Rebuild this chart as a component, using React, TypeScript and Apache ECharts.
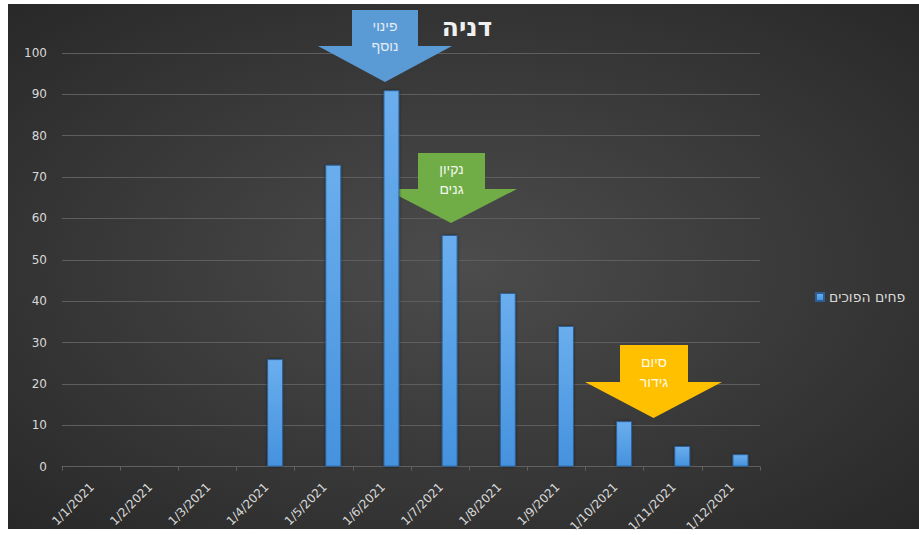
import React, { useEffect, useRef } from "react";
import * as echarts from "echarts";

const categories = [
  "1/1/2021", "1/2/2021", "1/3/2021", "1/4/2021", "1/5/2021", "1/6/2021",
  "1/7/2021", "1/8/2021", "1/9/2021", "1/10/2021", "1/11/2021", "1/12/2021",
];
const values = [0, 0, 0, 26, 73, 91, 56, 42, 34, 11, 5, 3];
const seriesName = "פחים הפוכים";
const chartTitle = "דניה";
const yTicks = { min: 0, max: 100, interval: 10 };

const annotations = [
  { lines: "פינוי\nנוסף", color: "#5b9bd5", textColor: "#e4ecf5", box: [352, 10, 418, 46], head: [318, 452, 82], textY: 36 },
  { lines: "נקיון\nגנים", color: "#70ad47", textColor: "#f2f7ee", box: [418, 153, 485, 189], head: [385, 517, 223], textY: 179 },
  { lines: "סיום\nגידור", color: "#ffc000", textColor: "#fffbe8", box: [620, 345, 688, 382], head: [585, 722, 418], textY: 372 },
];

// category offset of bar centers relative to band start (Excel date-axis look)
const BAR_OFFSET = 0.664;

export default function App() {
  const ref = useRef<HTMLDivElement>(null);
  useEffect(() => {
    if (!ref.current) return;
    const chart = echarts.init(ref.current, null, { renderer: "svg" });
    const font = "Liberation Sans, DejaVu Sans, sans-serif";
    const wide = "DejaVu Sans, sans-serif";
    const arrowGraphics: any[] = [];
    annotations.forEach((a) => {
      const [x1, y1, x2, y2] = a.box;
      const [hl, hr, tipY] = a.head;
      const cx = (hl + hr) / 2;
      arrowGraphics.push({
        type: "polygon",
        z: 1,
        shape: { points: [[x1, y1], [x2, y1], [x2, y2], [hr, y2], [cx, tipY], [hl, y2], [x1, y2]] },
        style: { fill: a.color },
      });
      arrowGraphics.push({
        type: "text",
        z: 3,
        x: (x1 + x2) / 2,
        y: a.textY,
        style: {
          text: a.lines,
          fill: a.textColor,
          font: `14px ${font}`,
          lineHeight: 20,
          align: "center",
          verticalAlign: "middle",
        },
      });
    });
    const tickVals = categories.map((_, i) => i - BAR_OFFSET).concat([categories.length - BAR_OFFSET]);
    chart.setOption({
      animation: false,
      backgroundColor: "#ffffff",
      textStyle: { fontFamily: wide },
      grid: { left: 62, right: 159, top: 53, bottom: 68, containLabel: false },
      legend: {
        data: [seriesName],
        left: 810,
        top: 285,
        icon: "rect",
        itemWidth: 8,
        itemHeight: 8,
        textStyle: { color: "#d9d9d9", fontSize: 14, fontFamily: wide },
      },
      xAxis: {
        type: "value",
        min: -BAR_OFFSET,
        max: categories.length - BAR_OFFSET,
        splitLine: { show: false },
        axisLine: { show: true, lineStyle: { color: "#606060", width: 1 } },
        axisTick: { show: true, customValues: tickVals, length: 4, lineStyle: { color: "#606060" } },
        axisLabel: {
          customValues: categories.map((_, i) => i),
          formatter: (v: number) => categories[Math.round(v)] ?? "",
          rotate: 45,
          color: "#d9d9d9",
          fontSize: 12,
          margin: 10,
          padding: [0, 12, 0, 0],
          fontFamily: wide,
        },
      },
      yAxis: {
        type: "value",
        min: yTicks.min,
        max: yTicks.max,
        interval: yTicks.interval,
        axisLine: { show: false },
        axisTick: { show: false },
        splitLine: { lineStyle: { color: "#5e5e5e", width: 1 } },
        axisLabel: { color: "#d9d9d9", fontSize: 12, margin: 15, fontFamily: wide },
      },
      series: [
        {
          name: seriesName,
          type: "bar",
          barWidth: 16,
          z: 2,
          data: values.map((v, i) => [i, v]),
          itemStyle: {
            color: new echarts.graphic.LinearGradient(0, 0, 0, 1, [
              { offset: 0, color: "#6aaeee" },
              { offset: 1, color: "#4592de" },
            ]),
            borderColor: "#2d5f95",
            borderWidth: 1,
            shadowColor: "rgba(0,0,0,0.45)",
            shadowBlur: 3,
          },
        },
      ],
      graphic: [
        {
          type: "rect",
          z: -10,
          silent: true,
          shape: { x: 8, y: 4, width: 911, height: 525 },
          style: {
            fill: new echarts.graphic.RadialGradient(0.5, 0.5, 0.75, [
              { offset: 0, color: "#4c4c4c" },
              { offset: 1, color: "#262626" },
            ]),
          },
        },
        {
          type: "text",
          z: 3,
          x: 467,
          y: 27,
          style: {
            text: chartTitle,
            fill: "#f0f0f0",
            font: `bold 25px ${wide}`,
            align: "center",
            verticalAlign: "middle",
          },
        },
        ...arrowGraphics,
      ],
    });
    return () => chart.dispose();
  }, []);
  return <div ref={ref} style={{ position: "absolute", left: 0, top: 0, width: 919, height: 535 }} />;
}
